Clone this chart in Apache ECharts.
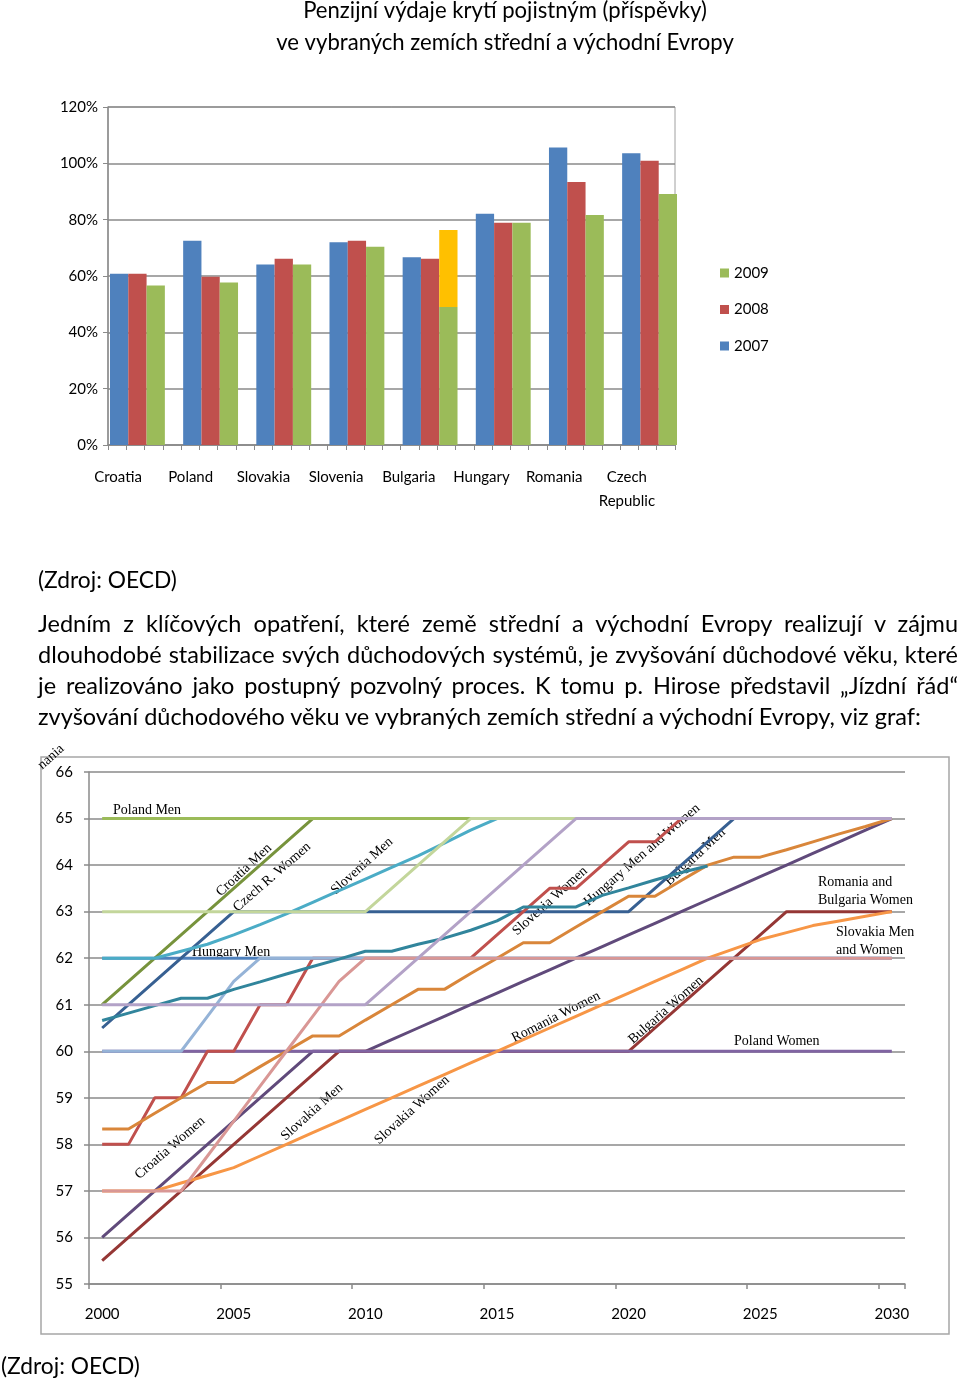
<!DOCTYPE html>
<html><head><meta charset="utf-8">
<script src="https://cdn.jsdelivr.net/npm/echarts@6/dist/echarts.min.js"></script>
<style>
html,body{margin:0;padding:0;background:#fff;}
#chart{position:absolute;left:0;top:0;width:960px;height:1379px;}
.t{position:absolute;font-family:Lato,'Open Sans',sans-serif;color:#000;white-space:nowrap;}
#para{position:absolute;left:38px;top:608px;width:920px;font-family:Lato,'Open Sans',sans-serif;color:#000;}
#para div{text-align:justify;text-align-last:justify;height:31px;line-height:31px;overflow:visible;}
#para div.last{text-align:left;text-align-last:left;}
</style></head>
<body>
<div id="chart"></div>
<div id="src1" class="t" style="left:38px;top:565px;line-height:30px;">(Zdroj: OECD)</div>
<div id="para"></div>
<div id="src2" class="t" style="left:1px;top:1351px;line-height:30px;">(Zdroj: OECD)</div>
<script>
// ---------- DATA ----------
const titleLines = ['Penzijní výdaje krytí pojistným (příspěvky)', 've vybraných zemích střední a východní Evropy'];
const countries = ['Croatia','Poland','Slovakia','Slovenia','Bulgaria','Hungary','Romania','Czech\nRepublic'];
const v2007 = [0.608,0.725,0.641,0.720,0.667,0.821,1.056,1.036];
const v2008 = [0.608,0.597,0.661,0.725,0.661,0.789,0.934,1.009];
const v2009 = [0.566,0.577,0.641,0.704,0.490,0.789,0.817,0.891];
const v2009top = [null,null,null,null,0.273,null,null,null];
const paraLines = [
  'Jedním z klíčových opatření, které země střední a východní Evropy realizují v\u00a0zájmu',
  'dlouhodobé stabilizace svých důchodových systémů, je zvyšování důchodové věku, které',
  'je realizováno jako postupný pozvolný proces. K\u00a0tomu p. Hirose představil „Jízdní řád“',
  'zvyšování důchodového věku ve vybraných zemích střední a východní Evropy, viz graf:'
];
const years = ['2000','2001','2002','2003','2004','2005','2006','2007','2008','2009','2010','2011','2012','2013','2014','2015','2016','2017','2018','2019','2020','2021','2022','2023','2024','2025','2026','2027','2028','2029','2030'];
const slovakiaMen   = [56,56.5,57,57.5,58,58.5,59,59.5,60,60,60,60.25,60.5,60.75,61,61.25,61.5,61.75,62,62.25,62.5,62.75,63,63.25,63.5,63.75,64,64.25,64.5,64.75,65];
const bulgariaWomen = [55.5,56,56.5,57,57.5,58,58.5,59,59.5,60,60,60,60,60,60,60,60,60,60,60,60,60.5,61,61.5,62,62.5,63,63,63,63,63];
const polandWomen   = [60,60,60,60,60,60,60,60,60,60,60,60,60,60,60,60,60,60,60,60,60,60,60,60,60,60,60,60,60,60,60];
const hungaryMen    = [62,62,62,62,62,62,62,62,62,62,62,62,62,62,62,62,62,62,62,62,62,62,62,62,62,62,62,62,62,62,62];
const croatiaMen    = [61,61.5,62,62.5,63,63.5,64,64.5,65,65,65,65,65,65,65,65,65,65,65,65,65,65,65,65,65,65,65,65,65,65,65];
const polandMen     = [65,65,65,65,65,65,65,65,65,65,65,65,65,65,65,65,65,65,65,65,65,65,65,65,65,65,65,65,65,65,65];
const czechWomen    = [60.5,61,61.5,62,62.5,63,63,63,63,63,63,63,63,63,63,63,63,63,63,63,63,63.5,64,64.5,65,65,65,65,65,65,65];
const hungaryMW     = [58,58,59,59,60,60,61,61,62,62,62,62,62,62,62,62.5,63,63.5,63.5,64,64.5,64.5,65,65,65,65,65,65,65,65,65];
const hungaryMen2   = [60,60,60,60,60.75,61.5,62,62,62,62,62,62,62,62,62,62,62,62,62,62,62,62,62,62,62,62,62,62,62,62,62];
const sloveniaMen   = [62,62,62,62.15,62.3,62.5,62.72,62.95,63.2,63.45,63.7,63.95,64.2,64.47,64.75,65,65,65,65,65,65,65,65,65,65,65,65,65,65,65,65];
const sloveniaMen2  = [63,63,63,63,63,63,63,63,63,63,63,63.5,64,64.5,65,65,65,65,65,65,65,65,65,65,65,65,65,65,65,65,65];
const romaniaMen    = [58.33,58.33,58.67,59,59.33,59.33,59.67,60,60.33,60.33,60.67,61,61.33,61.33,61.67,62,62.33,62.33,62.67,63,63.33,63.33,63.67,64,64.17,64.17,64.33,64.5,64.67,64.83,65];
const slovakiaWomen = [57,57,57,57.17,57.33,57.5,57.75,58,58.25,58.5,58.75,59,59.25,59.5,59.75,60,60.25,60.5,60.75,61,61.25,61.5,61.75,62,62.2,62.4,62.55,62.7,62.8,62.9,63];
const croatiaWomen  = [57,57,57,57,57.75,58.5,59.25,60,60.75,61.5,62,62,62,62,62,62,62,62,62,62,62,62,62,62,62,62,62,62,62,62,62];
const sloveniaWomen = [60.66,60.82,60.98,61.14,61.14,61.33,61.49,61.66,61.82,61.98,62.15,62.15,62.3,62.43,62.6,62.8,63.1,63.1,63.1,63.35,63.51,63.68,63.84,63.98,null,null,null,null,null,null,null];
const bulgariaMen   = [61,61,61,61,61,61,61,61,61,61,61,61.5,62,62.5,63,63.5,64,64.5,65,65,65,65,65,65,65,65,65,65,65,65,65];

// ---------- helpers ----------
const mctx = document.createElement('canvas').getContext('2d');
function fit(text, family, target){ mctx.font = '100px ' + family; return 100 * target / mctx.measureText(text).width; }
const SANS = 'Lato';
const SERIF = '"Liberation Serif", "DejaVu Serif", serif';

// HTML texts
const pSize = fit(paraLines[3], SANS, 886);
const para = document.getElementById('para');
para.style.fontSize = pSize + 'px';
paraLines.forEach((l, i) => { const d = document.createElement('div'); d.textContent = l; if (i === 3) d.className = 'last'; para.appendChild(d); });
const zSize = fit('(Zdroj: OECD)', SANS, 139);
document.getElementById('src1').style.fontSize = zSize + 'px';
document.getElementById('src2').style.fontSize = zSize + 'px';

const tSize = fit(titleLines[0], SANS, 404);
const GRID_C = '#8a8a8a';

const chart = echarts.init(document.getElementById('chart'));
const lineDefs = [
  ['Slovakia Men', slovakiaMen, '#604a7b'],
  ['Bulgaria Women', bulgariaWomen, '#953735'],
  ['Poland Women', polandWomen, '#8064a2'],
  ['Hungary Men', hungaryMen, '#4f81bd'],
  ['Croatia Men', croatiaMen, '#77933c'],
  ['Poland Men', polandMen, '#9bbb59'],
  ['Czech R. Women', czechWomen, '#376092'],
  ['Hungary Men and Women', hungaryMW, '#c0504d'],
  ['Hungary Men 2', hungaryMen2, '#95b3d7'],
  ['Slovenia Men', sloveniaMen, '#4bacc6'],
  ['Slovenia Men 2', sloveniaMen2, '#c3d69b'],
  ['Romania Men', romaniaMen, '#d9863a'],
  ['Slovakia Women', slovakiaWomen, '#f79646'],
  ['Croatia Women', croatiaWomen, '#d99795'],
  ['Slovenia Women', sloveniaWomen, '#31859c'],
  ['Bulgaria Men', bulgariaMen, '#b3a2c7']
];
const lineSeries = lineDefs.map(d => ({
  name: d[0], type: 'line', xAxisIndex: 3, yAxisIndex: 3, data: d[1],
  symbol: 'none', lineStyle: { color: d[2], width: 3 }, itemStyle: { color: d[2] },
  silent: true, connectNulls: false
}));

function lbl(text, x, y, deg, extra) {
  return Object.assign({ type: 'text', x: x, y: y, rotation: deg * Math.PI / 180,
    style: { text: text, fill: '#000', fontFamily: SERIF, fontSize: 14, align: 'center', verticalAlign: 'middle' } }, extra || {});
}
const graphics = [
  { type: 'text', x: 505, y: 11, style: { text: titleLines[0], fill: '#000', fontFamily: SANS, fontSize: tSize, align: 'center', verticalAlign: 'middle' } },
  { type: 'text', x: 505, y: 43, style: { text: titleLines[1], fill: '#000', fontFamily: SANS, fontSize: tSize, align: 'center', verticalAlign: 'middle' } },
  { type: 'rect', shape: { x: 41, y: 757, width: 908, height: 577 }, style: { fill: 'none', stroke: '#a6a6a6', lineWidth: 1.5 }, z: 0 },
  lbl('nania', 51, 757, 42, {}),
  { type: 'text', x: 113, y: 810, style: { text: 'Poland Men', fill: '#000', fontFamily: SERIF, fontSize: 14, align: 'left', verticalAlign: 'middle' } },
  lbl('Croatia Men', 244, 870, 43),
  lbl('Czech R. Women', 272, 877, 41),
  lbl('Slovenia Men', 362, 866, 42),
  { type: 'text', x: 192, y: 952, style: { text: 'Hungary Men', fill: '#000', fontFamily: SERIF, fontSize: 14, align: 'left', verticalAlign: 'middle' } },
  lbl('Croatia Women', 170, 1148, 41),
  lbl('Slovakia Men', 312, 1112, 42),
  lbl('Slovakia Women', 412, 1110, 42),
  lbl('Slovenia Women', 550, 901, 42),
  lbl('Hungary Men and Women', 642, 855, 41),
  lbl('Bulgaria Men', 695, 857, 43),
  lbl('Romania Women', 556, 1017, 27),
  lbl('Bulgaria Women', 666, 1010, 41.5),
  { type: 'text', x: 734, y: 1041, style: { text: 'Poland Women', fill: '#000', fontFamily: SERIF, fontSize: 14, align: 'left', verticalAlign: 'middle' } },
  { type: 'text', x: 818, y: 891.5, style: { text: 'Romania and\nBulgaria Women', fill: '#000', fontFamily: SERIF, fontSize: 14, lineHeight: 18, align: 'left', verticalAlign: 'middle' } },
  { type: 'text', x: 836, y: 941, style: { text: 'Slovakia Men\nand Women', fill: '#000', fontFamily: SERIF, fontSize: 14, lineHeight: 18, align: 'left', verticalAlign: 'middle' } }
];

const option = {
  animation: false,
  backgroundColor: '#fff',
  textStyle: { fontFamily: SANS },
  graphic: graphics,
  legend: {
    orient: 'vertical', left: 720, top: 265, padding: 0, itemWidth: 9, itemHeight: 9, itemGap: 20.5,
    icon: 'rect', selectedMode: false, data: ['2009', '2008', '2007'],
    textStyle: { fontSize: 15, lineHeight: 16, color: '#000', fontFamily: SANS }
  },
  grid: [
    { left: 108, top: 107, width: 567, height: 338, show: true, borderColor: '#a0a0a0', borderWidth: 1 },
    { left: 100.85, top: 107, width: 585.3, height: 338 },
    { left: 81.65, top: 107, width: 581.6, height: 338 },
    { left: 89, top: 772, width: 816, height: 512 }
  ],
  xAxis: [
    { gridIndex: 0, type: 'value', min: 0, max: 31, interval: 1,
      axisLine: { show: true, lineStyle: { color: GRID_C, width: 1.5 } },
      axisTick: { show: true, length: 5, lineStyle: { color: GRID_C } },
      axisLabel: { show: false }, splitLine: { show: false } },
    { gridIndex: 1, type: 'category', data: countries, axisLine: { show: false }, axisTick: { show: false }, axisLabel: { show: false } },
    { gridIndex: 2, type: 'category', data: countries, axisLine: { show: false }, axisTick: { show: false },
      axisLabel: { fontSize: 15, lineHeight: 24, margin: 20, color: '#000', fontFamily: SANS, interval: 0 } },
    { gridIndex: 3, type: 'category', data: years, boundaryGap: true,
      axisLine: { show: true, lineStyle: { color: GRID_C, width: 1.5 } },
      axisTick: { show: true, interval: 4, length: 5, lineStyle: { color: GRID_C, width: 1.5 } },
      axisLabel: { interval: 4, fontSize: 15, margin: 23, color: '#000', fontFamily: SANS },
      splitLine: { show: false } }
  ],
  yAxis: [
    { gridIndex: 0, type: 'value', min: 0, max: 1.2, interval: 0.2,
      axisLine: { show: true, lineStyle: { color: GRID_C, width: 1.5 } },
      axisTick: { show: true, length: 5, lineStyle: { color: GRID_C } },
      axisLabel: { fontSize: 15, margin: 10, color: '#000', fontFamily: SANS, formatter: v => Math.round(v * 100) + '%' },
      splitLine: { show: true, lineStyle: { color: GRID_C, width: 1.5 } } },
    { gridIndex: 1, type: 'value', min: 0, max: 1.2, show: false, splitLine: { show: false } },
    { gridIndex: 2, type: 'value', min: 0, max: 1.2, show: false, splitLine: { show: false } },
    { gridIndex: 3, type: 'value', min: 55, max: 66, interval: 1,
      axisLine: { show: true, lineStyle: { color: GRID_C, width: 1.5 } },
      axisTick: { show: true, length: 5, lineStyle: { color: GRID_C, width: 1.5 } },
      axisLabel: { fontSize: 15, margin: 16, color: '#000', fontFamily: SANS },
      splitLine: { show: true, lineStyle: { color: GRID_C, width: 1.5 } } }
  ],
  series: [
    { name: '2007', type: 'bar', xAxisIndex: 1, yAxisIndex: 1, data: v2007, barWidth: '25%', barGap: '0%', itemStyle: { color: '#4f81bd' }, silent: true },
    { name: '2008', type: 'bar', xAxisIndex: 1, yAxisIndex: 1, data: v2008, barWidth: '25%', barGap: '0%', itemStyle: { color: '#c0504d' }, silent: true },
    { name: '2009', type: 'bar', xAxisIndex: 1, yAxisIndex: 1, data: v2009, stack: 's9', barWidth: '25%', barGap: '0%', itemStyle: { color: '#9bbb59' }, silent: true },
    { name: '2009 extra', type: 'bar', xAxisIndex: 1, yAxisIndex: 1, data: v2009top, stack: 's9', barWidth: '25%', barGap: '0%', itemStyle: { color: '#ffc000' }, silent: true }
  ].concat(lineSeries)
};
chart.setOption(option);
</script>
</body></html>
